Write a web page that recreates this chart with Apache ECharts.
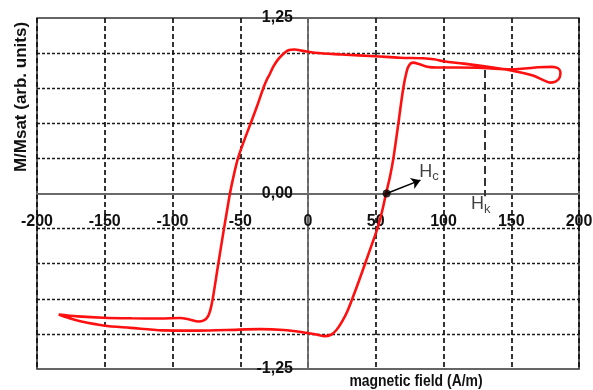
<!DOCTYPE html>
<html>
<head>
<meta charset="utf-8">
<script src="https://cdn.jsdelivr.net/npm/echarts@6/dist/echarts.min.js"></script>
<style>
  html, body { margin: 0; padding: 0; background: #fff; }
  #chart { width: 593px; height: 390px; }
</style>
</head>
<body>
<div id="chart"></div>
<script>
// Hysteresis loop: normalised magnetisation M/Msat versus applied field H (A/m)
const xTicks = [-200, -150, -100, -50, 0, 50, 100, 150, 200];
const yLabelValues = [-1.25, 0, 1.25];

// Increasing field: negative saturation -> positive saturation
const ascendingBranch = [
  [-184, -0.862], [-176, -0.889], [-168, -0.910], [-151, -0.940], [-131, -0.957],
  [-107, -0.975], [-85, -0.977], [-60, -0.972], [-35, -0.966], [-18, -0.972],
  [-5, -0.986], [5, -1.002], [12, -1.016], [17, -1.006], [21, -0.972],
  [25, -0.915], [29, -0.840], [32.7, -0.750], [37.5, -0.625], [42.1, -0.500],
  [46.7, -0.375], [51.2, -0.250], [54.6, -0.130], [57.6, 0], [60.5, 0.120],
  [63, 0.250], [66.7, 0.500], [70.3, 0.750], [72.6, 0.860], [74.5, 0.912],
  [77.5, 0.932], [82.5, 0.920], [88, 0.903], [95, 0.897], [110, 0.897],
  [129, 0.895], [149, 0.884], [160, 0.890], [170, 0.899], [180, 0.902],
  [184.5, 0.892], [186.3, 0.865], [185.8, 0.828], [183, 0.798], [179, 0.790]
];

// Decreasing field: positive saturation -> negative saturation
const descendingBranch = [
  [174, 0.806], [166, 0.840], [158, 0.860], [149, 0.878], [139, 0.893],
  [129, 0.907], [115, 0.925], [100, 0.942], [93, 0.956], [85, 0.963],
  [68, 0.967], [49.5, 0.978], [25, 0.990], [5, 1.002], [-4, 1.016],
  [-10, 1.026], [-14.5, 1.020], [-18.5, 0.992], [-22.5, 0.950], [-25.6, 0.903],
  [-28, 0.855], [-30.5, 0.808], [-33, 0.750], [-37.5, 0.625], [-42.3, 0.500],
  [-47.2, 0.375], [-51.7, 0.250], [-55, 0.120], [-57.6, 0], [-59.8, -0.125],
  [-62, -0.250], [-66.2, -0.500], [-70.3, -0.750], [-72.3, -0.838], [-74, -0.878],
  [-76.5, -0.902], [-81, -0.912], [-87, -0.899], [-94.5, -0.887], [-109, -0.890],
  [-130, -0.889], [-151, -0.885], [-170, -0.875], [-184, -0.862]
];

const coerciveField = 58;      // Hc, where the rising branch crosses M = 0
const anisotropyField = 130.5; // Hk
const hkLineTop = 0.88;
const hkLineBottom = -0.02;
const hcArrowTip = [83, 0.095];
const hcLabelAt = [81.7, 0.155];
const hkLabelAt = [119.9, -0.078];

const FONT = '"Liberation Sans", Arial, Helvetica, sans-serif';
const loop = ascendingBranch.concat(descendingBranch);

// plot rectangle
const G = { left: 37, top: 18, width: 542, height: 351 };
const xMin = xTicks[0], xMax = xTicks[xTicks.length - 1];
const yMin = yLabelValues[0], yMax = yLabelValues[yLabelValues.length - 1];
// shift the axes from the plot edges onto the origin
const xAxisOffset = -G.height * (0 - yMin) / (yMax - yMin);
const yAxisOffset = -G.width * (0 - xMin) / (xMax - xMin);

const chart = echarts.init(document.getElementById('chart'), null, { renderer: 'canvas' });

const subRich = {
  h: { fontSize: 18, lineHeight: 22, fontFamily: FONT, color: '#111' },
  s: { fontSize: 13, lineHeight: 14, verticalAlign: 'bottom', fontFamily: FONT, color: '#111' }
};

chart.setOption({
  animation: false,
  backgroundColor: '#fff',
  grid: {
    left: G.left, top: G.top, width: G.width, height: G.height,
    containLabel: false, outerBoundsMode: 'none',
    show: true, borderColor: '#333', borderWidth: 1.6, backgroundColor: 'transparent'
  },
  xAxis: {
    type: 'value', position: 'bottom', offset: xAxisOffset,
    min: xMin, max: xMax, interval: 50,
    axisLine: { show: true, onZero: false, lineStyle: { color: '#6a6a6a', width: 1.8 } },
    axisTick: { show: false },
    axisLabel: {
      show: true, margin: 20, color: '#111', fontSize: 16, fontWeight: 'bold', fontFamily: FONT,
      showMinLabel: true, showMaxLabel: true
    },
    splitLine: { show: true, lineStyle: { color: '#111', width: 1.7, type: [5, 3] } }
  },
  yAxis: {
    type: 'value', position: 'left', offset: yAxisOffset,
    min: yMin, max: yMax, interval: 1.25,
    axisLine: { show: true, onZero: false, lineStyle: { color: '#6a6a6a', width: 1.8 } },
    axisTick: { show: true, length: 6, lineStyle: { color: '#6a6a6a', width: 1.5 } },
    axisLabel: {
      show: true, margin: 15, color: '#111', fontSize: 16, fontWeight: 'bold', fontFamily: FONT,
      showMinLabel: true, showMaxLabel: true,
      formatter: v => v.toFixed(2).replace('.', ',')
    },
    splitLine: { show: false },
    minorTick: { show: false, splitNumber: 5 },
    minorSplitLine: { show: true, lineStyle: { color: '#1a1a1a', width: 1.3, type: [3, 2] } }
  },
  graphic: [
    {
      type: 'text', x: 21, y: 97, rotation: Math.PI / 2,
      style: {
        text: 'M/Msat (arb. units)', fill: '#111',
        font: 'bold 17px ' + FONT, align: 'center', verticalAlign: 'middle'
      }
    },
    {
      type: 'text', x: 416, y: 381, scaleX: 0.82,
      style: {
        text: 'magnetic field (A/m)', fill: '#111',
        font: 'bold 17px ' + FONT, align: 'center', verticalAlign: 'middle'
      }
    }
  ],
  series: [
    {
      name: 'M/Msat',
      type: 'line',
      data: loop,
      smooth: 0.35,
      showSymbol: false,
      symbol: 'none',
      lineStyle: { color: '#ff1010', width: 2.6 },
      z: 5,
      silent: true
    },
    {
      name: 'Hc',
      type: 'scatter',
      data: [[coerciveField, 0]],
      symbol: 'circle',
      symbolSize: 8,
      itemStyle: { color: '#000' },
      z: 7,
      silent: true,
      markLine: {
        silent: true,
        symbol: ['none', 'arrow'],
        symbolSize: 9,
        label: { show: false },
        lineStyle: { color: '#000', width: 1.5, type: 'solid' },
        data: [[{ coord: [coerciveField, 0] }, { coord: hcArrowTip }]]
      }
    },
    {
      name: 'Hk',
      type: 'line',
      data: [],
      silent: true,
      markLine: {
        silent: true,
        symbol: ['none', 'none'],
        label: { show: false },
        lineStyle: { color: '#333', width: 2, type: [8, 4] },
        data: [[{ coord: [anisotropyField, hkLineTop] }, { coord: [anisotropyField, hkLineBottom] }]]
      }
    },
    {
      name: 'annotations',
      type: 'scatter',
      symbolSize: 1,
      itemStyle: { color: 'rgba(0,0,0,0)' },
      silent: true,
      z: 8,
      label: { show: true, position: 'right', distance: 0, rich: subRich },
      data: [
        { value: hcLabelAt, label: { formatter: '{h|H}{s|c}' } },
        { value: hkLabelAt, label: { formatter: '{h|H}{s|k}' } }
      ]
    }
  ]
});
</script>
</body>
</html>
